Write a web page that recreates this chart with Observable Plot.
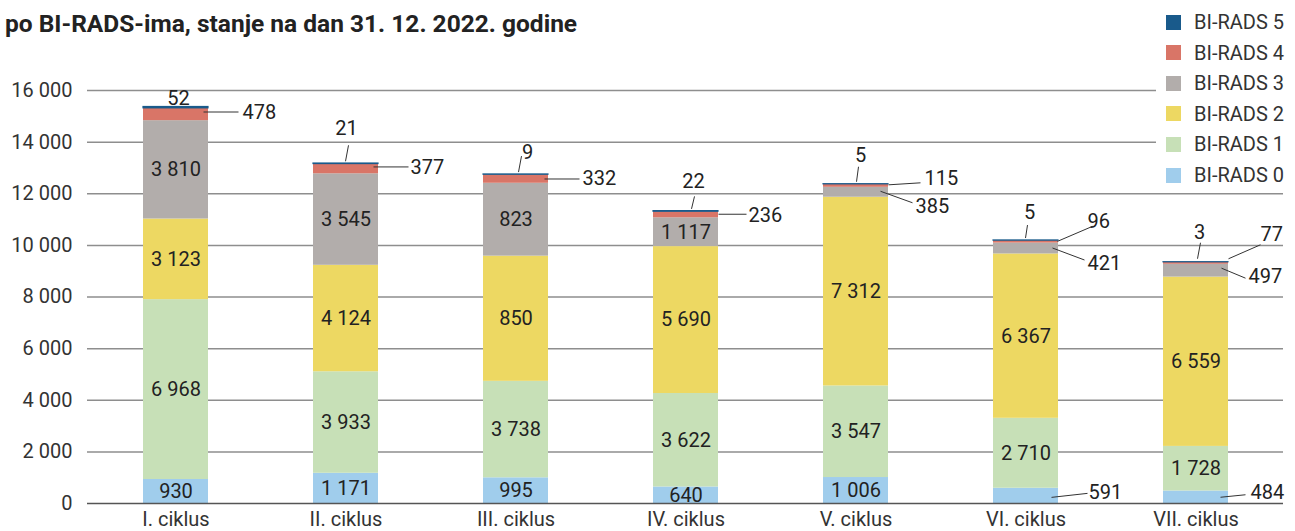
<!DOCTYPE html>
<html><head><meta charset="utf-8">
<script src="https://cdn.jsdelivr.net/npm/d3@7"></script>
<script src="https://cdn.jsdelivr.net/npm/@observablehq/plot@0.6"></script>
<style>
body{margin:0;background:#fff;font-family:Roboto,"Noto Sans",sans-serif;}
#wrap{position:relative;width:1295px;height:531px;overflow:hidden;}
#title{position:absolute;left:5px;top:9px;font-weight:bold;font-size:24.5px;color:#222;white-space:nowrap;z-index:2;}
#legend{position:absolute;left:1156px;top:8px;width:139px;height:180px;background:#fff;z-index:2;}
.li{position:absolute;left:10px;height:20px;display:flex;align-items:center;font-size:20px;color:#333;white-space:nowrap;}
.sw{width:15px;height:15px;margin-right:13px;}
</style></head>
<body><div id="wrap"><div id="title">po BI-RADS-ima, stanje na dan 31. 12. 2022. godine</div><div id="legend"></div></div>
<script>
// ---- data ----
const cycles = ["I. ciklus","II. ciklus","III. ciklus","IV. ciklus","V. ciklus","VI. ciklus","VII. ciklus"];
const seriesNames = ["BI-RADS 0","BI-RADS 1","BI-RADS 2","BI-RADS 3","BI-RADS 4","BI-RADS 5"];
const birads0 = [930,1171,995,640,1006,591,484];
const birads1 = [6968,3933,3738,3622,3547,2710,1728];
const birads2 = [3123,4124,4850,5690,7312,6367,6559];
const birads3 = [3810,3545,2823,1117,385,421,497];
const birads4 = [478,377,332,236,115,96,77];
const birads5 = [52,21,9,22,5,5,3];
// labels printed in the source differ from bar heights for two segments
const printedLabels = {"III. ciklus|BI-RADS 2":"850","III. ciklus|BI-RADS 3":"823"};
const yTicks = [0,2000,4000,6000,8000,10000,12000,14000,16000];
const colors = ["#a0cdec","#c7e0b7","#edd862","#b2adab","#d97567","#195a8b"];

// callout layout (pixel offsets from bar centre / segment middle)
const callouts = {
  "I. ciklus|BI-RADS 5":  {text:[3,-9.5,"middle"]},
  "I. ciklus|BI-RADS 4":  {line:[28,-2,63,-2], text:[67,-2,"start"]},
  "II. ciklus|BI-RADS 5": {line:[0,-2,3,-18], text:[1,-35,"middle"]},
  "II. ciklus|BI-RADS 4": {line:[28,-1.5,63,-1.5], text:[65,-1,"start"]},
  "III. ciklus|BI-RADS 5":{line:[3,-2,6,-18], text:[12,-22,"middle"]},
  "III. ciklus|BI-RADS 4":{line:[29,0.5,64,0.5], text:[67,0,"start"]},
  "IV. ciklus|BI-RADS 5": {line:[6,-2,9,-14.5], text:[8,-30,"middle"]},
  "IV. ciklus|BI-RADS 4": {line:[33,0,61,0], text:[63,0.5,"start"]},
  "V. ciklus|BI-RADS 5":  {line:[1,-2,3,-17], text:[5,-29,"middle"]},
  "V. ciklus|BI-RADS 4":  {line:[33,-0.5,65,-2.5], text:[69,-7.5,"start"]},
  "V. ciklus|BI-RADS 3":  {line:[25,-0.5,57,11], text:[60,14,"start"]},
  "VI. ciklus|BI-RADS 5": {line:[0,-2,2,-15], text:[4,-28,"middle"]},
  "VI. ciklus|BI-RADS 4": {line:[32,0,67,-15], text:[62,-20,"start"]},
  "VI. ciklus|BI-RADS 3": {line:[27,0,59,12], text:[62,15,"start"]},
  "VI. ciklus|BI-RADS 0": {line:[26,2,62,-2], text:[63,-3.5,"start"]},
  "VII. ciklus|BI-RADS 5":{line:[2,-3,5,-19], text:[4,-30,"middle"]},
  "VII. ciklus|BI-RADS 4":{line:[33,-4,65,-18], text:[65,-29,"start"]},
  "VII. ciklus|BI-RADS 3":{line:[26,-2,50,8], text:[53,6,"start"]},
  "VII. ciklus|BI-RADS 0":{line:[25,0.5,50,-2], text:[55,-5,"start"]}
};

const seriesValues = [birads0,birads1,birads2,birads3,birads4,birads5];
const locale = d3.formatLocale({decimal:",", thousands:" ", grouping:[3], currency:["",""]});
const fmt = locale.format(",d");

const rows = [];
cycles.forEach((c, i) => {
  let acc = 0;
  seriesNames.forEach((s, j) => {
    const v = seriesValues[j][i];
    const key = c + "|" + s;
    rows.push({cycle:c, series:s, value:v, y0:acc, y1:acc+v, mid:acc+v/2,
               label: printedLabels[key] ?? fmt(v), key});
    acc += v;
  });
});
const inside = rows.filter(r => !callouts[r.key]);
const outside = rows.filter(r => callouts[r.key]);
const topSeries = seriesNames[seriesNames.length - 1];

const chart = Plot.plot({
  width: 1295, height: 531,
  marginTop: 90, marginBottom: 28, marginLeft: 87, marginRight: 12,
  style: {fontFamily: "Roboto, 'Noto Sans', sans-serif", fontSize: "20px", color: "#333", background: "transparent"},
  x: {domain: cycles, paddingInner: 0.62, paddingOuter: 0.31, label: null, tickSize: 0, tickPadding: 8},
  y: {domain: [0,16000], label: null, ticks: yTicks, tickSize: 0, tickPadding: 15, tickFormat: fmt},
  color: {domain: seriesNames, range: colors},
  marks: [
    Plot.ruleY(yTicks.filter(t => t > 0), {stroke: "#8e8e8e", strokeWidth: 1.5}),
    Plot.barY(rows, {x: "cycle", y1: "y0", y2: "y1", fill: "series"}),
    // thin top segment outlined so it stays visible, as in the source
    Plot.barY(rows.filter(r => r.series === topSeries), {x: "cycle", y1: "y0", y2: "y1", fill: "series", stroke: "series", strokeWidth: 1.2}),
    Plot.ruleY([0], {stroke: "#555", strokeWidth: 1.5}),
    Plot.text(inside, {x: "cycle", y: "mid", text: "label", fill: "#222", fontSize: 20})
  ]
});
document.getElementById("wrap").appendChild(chart);
chart.style.position = "absolute"; chart.style.left = "0"; chart.style.top = "0";

// callouts through the chart's scales
const xs = chart.scale("x"), ys = chart.scale("y");
const svg = d3.select(chart);
const g = svg.append("g").attr("font-size", 20).attr("fill", "#222");
outside.forEach(r => {
  const c = callouts[r.key];
  const cx = xs.apply(r.cycle) + xs.bandwidth / 2;
  const cy = ys.apply(r.mid);
  if (c.line) {
    g.append("line").attr("x1", cx + c.line[0]).attr("y1", cy + c.line[1])
      .attr("x2", cx + c.line[2]).attr("y2", cy + c.line[3])
      .attr("stroke", "#333").attr("stroke-width", 1);
  }
  g.append("text").attr("x", cx + c.text[0]).attr("y", cy + c.text[1])
    .attr("dy", "0.35em").attr("text-anchor", c.text[2]).text(r.label);
});

// legend (top to bottom: BI-RADS 5 ... 0)
const leg = document.getElementById("legend");
seriesNames.slice().reverse().forEach((s, i) => {
  const idx = seriesNames.indexOf(s);
  const d = document.createElement("div");
  d.className = "li";
  d.style.top = (4 + i * 30.6) + "px";
  d.innerHTML = `<div class="sw" style="background:${colors[idx]}"></div><span>${s}</span>`;
  leg.appendChild(d);
});
</script></body></html>
